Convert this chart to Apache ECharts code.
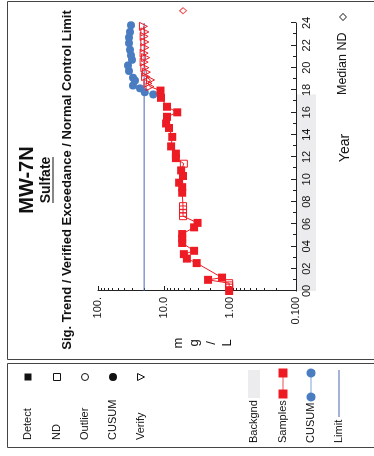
<!DOCTYPE html>
<html><head><meta charset="utf-8">
<script src="https://cdn.jsdelivr.net/npm/echarts@6/dist/echarts.min.js"></script>
<style>
html,body{margin:0;padding:0;background:#fff;width:374px;height:456px;overflow:hidden;}
#chart{position:absolute;left:0;top:0;width:456px;height:374px;transform-origin:0 0;transform:translate(0px,456px) rotate(-90deg);}
</style></head><body><div id="chart"></div>
<script>
// ---- data (years since 2000, mg/L) ----
const sampleYears  = [0.0, 0.3, 0.5, 0.7, 1.0, 1.2, 2.5, 2.9, 3.3, 3.6, 4.3, 4.7, 5.1, 5.7, 6.1, 6.7, 7.0, 7.3, 7.6, 8.8, 9.3, 9.7, 10.3, 10.8, 11.4, 11.9, 12.3, 12.95, 13.8, 14.6, 15.0, 15.6, 16.0, 16.5, 17.3, 17.95,
                      18.3, 18.6, 18.9, 19.2, 19.6, 20.0, 20.5, 20.9, 21.3, 21.8, 22.3, 22.8, 23.2, 23.7];
const sampleValues = [1.03, 1.03, 1.03, 1.03, 2.15, 1.32, 3.2, 4.5, 5.0, 3.5, 5.3, 5.3, 5.3, 3.5, 3.1, 5.15, 5.15, 5.15, 5.15, 5.3, 5.3, 5.9, 5.15, 5.5, 5.0, 6.6, 6.6, 7.8, 7.5, 8.4, 9.3, 9.0, 6.3, 9.0, 11.1, 11.3,
                      16.3, 17.5, 16.0, 19.0, 18.5, 19.5, 20.0, 19.0, 20.0, 19.5, 19.5, 20.0, 19.5, 20.5];
const sampleFlags  = ['D','N','N','N','D','D','D','D','D','D','D','D','D','D','D','N','N','N','N','D','D','D','D','D','N','D','D','D','D','D','D','D','D','D','D','D',
                      'V','V','V','V','V','V','V','V','V','V','V','V','V','V'];
const cusumYears   = [17.6, 17.8, 18.15, 18.4, 18.85, 19.1, 19.7, 20.2, 20.7, 21.1, 21.6, 22.2, 22.7, 23.2, 23.8];
const cusumValues  = [14.6, 19.5, 23.1, 29.4, 27.4, 29.4, 33.8, 35.0, 30.5, 31.6, 32.7, 33.8, 33.8, 32.7, 31.6];
const limitValue = 20;
const limitYears = [0, 24];
const backgroundYears = [0, 17.6];
const medianND = 5.15;
const medianNDYear = 25.1;
const logTickLabels = ['0.100', '1.00', '10.0', '100.'];
const legendLeft = ['Detect', 'ND', 'Outlier', 'CUSUM', 'Verify'];
const legendRight = ['Backgnd', 'Samples', 'CUSUM', 'Limit'];

const RED = '#ED1C24', BLUE = '#4A7CC2', LIMIT = '#4A66B8', CUSUM_LINE = '#A9C0E6';
const FONT = '"Liberation Sans", Arial, sans-serif';

const sampleData = sampleYears.map((y, i) => {
  const f = sampleFlags[i];
  const item = { value: [y, sampleValues[i]] };
  if (f === 'D') { item.symbol = 'rect'; item.symbolSize = 8; item.itemStyle = { color: RED }; }
  else if (f === 'N') { item.symbol = 'rect'; item.symbolSize = 7; item.itemStyle = { color: 'rgba(255,255,255,0)', borderColor: RED, borderWidth: 1 }; }
  else { item.symbol = 'triangle'; item.symbolRotate = 180; item.symbolSize = 8; item.itemStyle = { color: 'rgba(255,255,255,0)', borderColor: RED, borderWidth: 1 }; }
  return item;
});

const chart = echarts.init(document.getElementById('chart'), null, { renderer: 'canvas' });

const txt = (text, x, y, opts) => Object.assign({ type: 'text', x: x, y: y, silent: true,
  style: Object.assign({ text: text, fill: '#111', font: '11px ' + FONT, textAlign: 'left', textVerticalAlign: 'middle' }, opts || {}) });

const leftY = [28, 57, 85, 113, 141];
const rightY = [254, 283, 311, 339];
const graphics = [
  { type: 'rect', shape: { x: 96.5, y: 7.5, width: 358, height: 400 }, style: { fill: 'none', stroke: '#444', lineWidth: 1 }, silent: true },
  { type: 'rect', shape: { x: 8.5, y: 7.5, width: 84, height: 400 }, style: { fill: 'none', stroke: '#444', lineWidth: 1 }, silent: true },
  txt('MW-7N', 276, 27.5, { font: 'bold 20px ' + FONT, textAlign: 'center' }),
  txt('Sulfate', 276, 46.5, { font: 'bold 14px ' + FONT, textAlign: 'center' }),
  { type: 'line', shape: { x1: 253, y1: 53, x2: 299, y2: 53 }, style: { stroke: '#111', lineWidth: 1.2 }, silent: true },
  txt('Sig. Trend / Verified Exceedance / Normal Control Limit', 276, 67.5, { font: 'bold 13px ' + FONT, textAlign: 'center' }),
  txt('m\ng\n/\nL', 113, 203, { font: '13px ' + FONT, textAlign: 'center', lineHeight: 16.5 }),
  txt('Median ND', 361, 343, { font: '12.5px ' + FONT }),
  { type: 'polygon', shape: { points: [[439, 339.5], [442.5, 343], [439, 346.5], [435.5, 343]] }, style: { fill: 'none', stroke: '#111', lineWidth: 1 }, silent: true }
];
legendLeft.forEach((t, i) => graphics.push(txt(t, 16, leftY[i])));
graphics.push({ type: 'rect', shape: { x: 75.5, y: 24.5, width: 7, height: 7 }, style: { fill: '#111' }, silent: true });
graphics.push({ type: 'rect', shape: { x: 75.5, y: 53.5, width: 7, height: 7 }, style: { fill: 'none', stroke: '#111', lineWidth: 1 }, silent: true });
graphics.push({ type: 'circle', shape: { cx: 79, cy: 85, r: 3.5 }, style: { fill: 'none', stroke: '#111', lineWidth: 1 }, silent: true });
graphics.push({ type: 'circle', shape: { cx: 79, cy: 113, r: 4 }, style: { fill: '#111' }, silent: true });
graphics.push({ type: 'polygon', shape: { points: [[75.5, 137.5], [82.5, 137.5], [79, 144.5]] }, style: { fill: 'none', stroke: '#111', lineWidth: 1 }, silent: true });
legendRight.forEach((t, i) => graphics.push(txt(t, 13, rightY[i])));
graphics.push({ type: 'rect', shape: { x: 58, y: 248, width: 28, height: 12 }, style: { fill: '#ECECEE' }, silent: true });
graphics.push({ type: 'line', shape: { x1: 62, y1: 283, x2: 83, y2: 283 }, style: { stroke: '#F48A8E', lineWidth: 1.5 }, silent: true });
graphics.push({ type: 'rect', shape: { x: 78.5, y: 278.5, width: 9, height: 9 }, style: { fill: RED }, silent: true });
graphics.push({ type: 'rect', shape: { x: 57.5, y: 278.5, width: 9, height: 9 }, style: { fill: RED }, silent: true });
graphics.push({ type: 'line', shape: { x1: 59, y1: 311, x2: 83, y2: 311 }, style: { stroke: CUSUM_LINE, lineWidth: 1.5 }, silent: true });
graphics.push({ type: 'circle', shape: { cx: 83, cy: 311, r: 4.5 }, style: { fill: BLUE }, silent: true });
graphics.push({ type: 'circle', shape: { cx: 59, cy: 311, r: 4.5 }, style: { fill: BLUE }, silent: true });
graphics.push({ type: 'line', shape: { x1: 39, y1: 339, x2: 86, y2: 339 }, style: { stroke: LIMIT, lineWidth: 1 }, silent: true });

chart.setOption({
  animation: false,
  backgroundColor: '#fff',
  textStyle: { fontFamily: FONT },
  grid: { left: 165, top: 98, width: 268, height: 198, containLabel: false },
  xAxis: {
    type: 'value', min: 0, max: 24, interval: 2, position: 'bottom',
    name: 'Year', nameLocation: 'middle', nameGap: 42,
    nameTextStyle: { fontSize: 14, color: '#111', padding: [0, 0, 0, 18] },
    axisLine: { show: true, lineStyle: { color: '#222', width: 1 } },
    axisTick: { show: true, inside: true, length: 5, lineStyle: { color: '#222' } },
    minorTick: { show: true, splitNumber: 2, length: 3, lineStyle: { color: '#222' } },
    axisLabel: { fontSize: 11, color: '#111', margin: 5, formatter: v => String(Math.round(v)).padStart(2, '0') },
    splitLine: { show: false }
  },
  yAxis: {
    type: 'log', logBase: 10, min: 0.1, max: 100,
    axisLine: { show: true, lineStyle: { color: '#222', width: 1 } },
    axisTick: { show: true, inside: true, length: 5, lineStyle: { color: '#222' } },
    minorTick: { show: true, splitNumber: 9, length: 3, lineStyle: { color: '#222' } },
    axisLabel: { fontSize: 11, color: '#111', margin: 6, formatter: v => logTickLabels[Math.round(Math.log10(v)) + 1] },
    splitLine: { show: false }
  },
  graphic: graphics,
  series: [
    {
      type: 'custom', name: 'Backgnd', z: 0, clip: false, silent: true,
      encode: { x: [0, 1] },
      data: [[backgroundYears[0], backgroundYears[1]]],
      renderItem: (params, api) => {
        const p0 = api.coord([api.value(0), 0.1]);
        const p1 = api.coord([api.value(1), 0.1]);
        return { type: 'rect', shape: { x: p0[0], y: p0[1], width: p1[0] - p0[0], height: 20 }, style: { fill: '#ECECEE' } };
      }
    },
    {
      type: 'line', name: 'Limit', data: limitYears.map(y => [y, limitValue]), symbol: 'none', silent: true,
      lineStyle: { color: LIMIT, width: 1 }, z: 3
    },
    {
      type: 'line', name: 'CUSUM', data: cusumYears.map((y, i) => [y, cusumValues[i]]), symbol: 'circle', symbolSize: 8,
      itemStyle: { color: BLUE }, lineStyle: { color: CUSUM_LINE, width: 1 }, z: 4, silent: true
    },
    {
      type: 'line', name: 'Samples', data: sampleData, showAllSymbol: true, silent: true,
      lineStyle: { color: RED, width: 1 }, itemStyle: { color: RED }, z: 5
    },
    {
      type: 'scatter', name: 'Median ND', data: [[medianNDYear, medianND]], symbol: 'diamond', symbolSize: [6, 7], clip: false, silent: true,
      itemStyle: { color: 'rgba(255,255,255,0)', borderColor: RED, borderWidth: 1 }
    }
  ]
});
</script>
</body></html>
